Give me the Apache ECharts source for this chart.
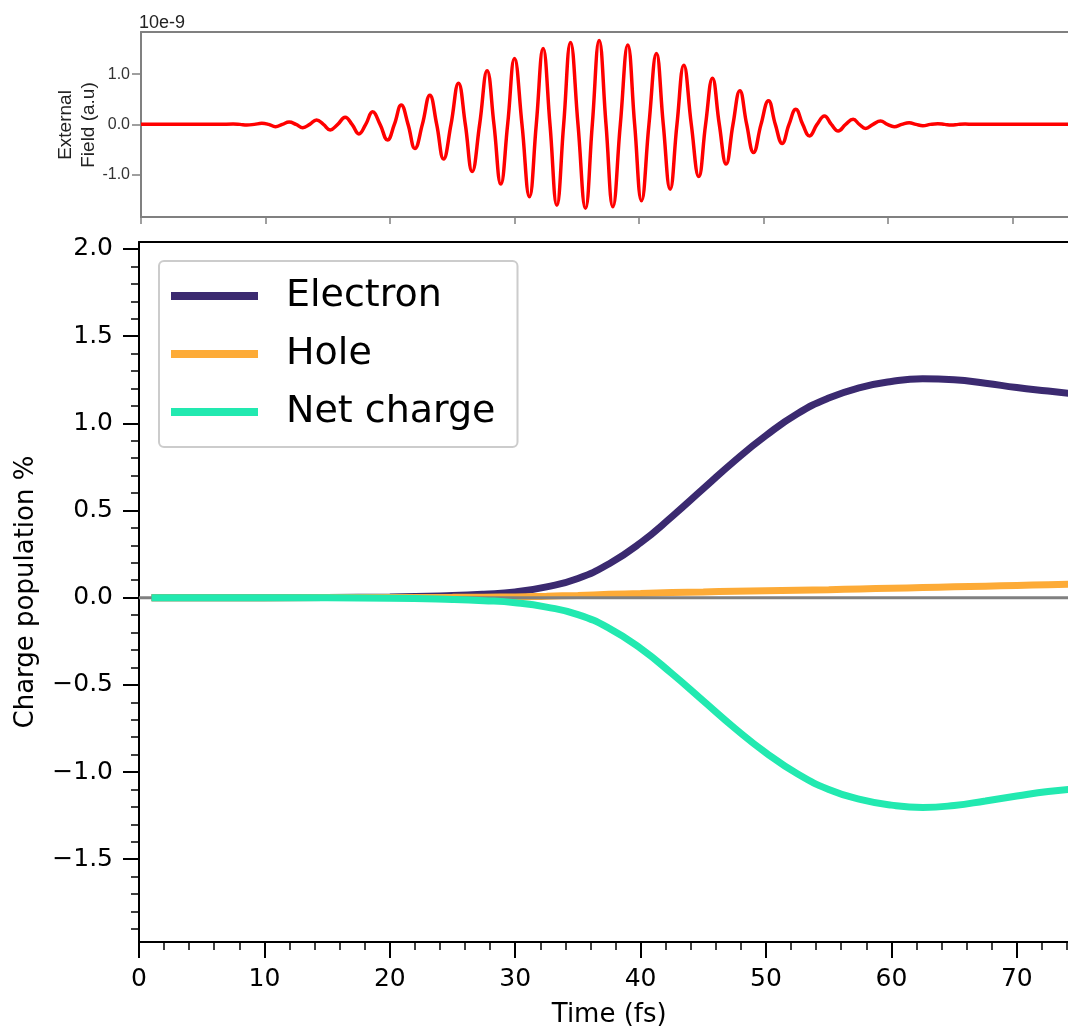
<!DOCTYPE html>
<html>
<head>
<meta charset="utf-8">
<title>Charge population under external field</title>
<script src="https://cdn.jsdelivr.net/npm/echarts@6/dist/echarts.min.js"></script>
<style>
  html, body { margin: 0; padding: 0; background: #ffffff; }
  #chart { width: 1068px; height: 1030px; }
</style>
</head>
<body>
<div id="chart"></div>
<script>
// ---- External field (units of 1e-9 a.u.) : extrema and zero crossings ----
const fieldPeakTime = [7.4, 8.5, 9.7, 10.8, 11.9, 13.0, 14.1, 15.2, 16.4, 17.5, 18.6, 19.8, 20.9, 22.0,
  23.2, 24.3, 25.5, 26.6, 27.8, 28.9, 30.0, 31.2, 32.3, 33.4, 34.5, 35.7, 36.8, 37.9, 39.1, 40.2,
  41.4, 42.5, 43.6, 44.8, 45.9, 47.0, 48.1, 49.2, 50.4, 51.5, 52.6, 53.7, 54.9, 56.0, 57.2, 58.2,
  59.4, 60.5, 61.7, 62.8, 64.0, 65.1, 66.2];
const fieldPeakValue = [0.008, -0.012, 0.02, -0.045, 0.046, -0.066, 0.086, -0.11, 0.14, -0.19, 0.25, -0.31,
  0.385, -0.48, 0.58, -0.69, 0.82, -0.94, 1.07, -1.19, 1.31, -1.44, 1.51, -1.61, 1.63, -1.67, 1.67,
  -1.64, 1.58, -1.52, 1.41, -1.29, 1.18, -1.04, 0.92, -0.79, 0.67, -0.56, 0.47, -0.38, 0.30, -0.23,
  0.166, -0.13, 0.10, -0.08, 0.066, -0.046, 0.033, -0.027, 0.013, -0.012, 0.006];
const fieldZeroTime = [0, 4, 6.3, 7.95, 9.1, 10.25, 11.35, 12.45, 13.55, 14.65, 15.8, 16.95, 18.05, 19.2,
  20.35, 21.45, 22.6, 23.75, 24.9, 26.05, 27.2, 28.35, 29.45, 30.6, 31.75, 32.85, 33.95, 35.1, 36.25,
  37.35, 38.5, 39.65, 40.8, 41.95, 43.05, 44.2, 45.35, 46.45, 47.55, 48.65, 49.8, 50.95, 52.05, 53.15,
  54.3, 55.45, 56.6, 57.7, 58.8, 59.95, 61.1, 62.25, 63.4, 64.55, 65.65, 66.8, 75];

// ---- Charge populations (%) ----
const time = [1, 10, 20, 25, 27.5, 30, 32.5, 35, 37.5, 40, 42.5, 45, 47.5, 50, 52.5, 55, 57.5, 60,
  62.5, 65, 67.5, 70, 72.5, 75];
const electron = [0, 0, 0.004, 0.012, 0.02, 0.033, 0.062, 0.11, 0.195, 0.315, 0.465, 0.625, 0.785, 0.93,
  1.055, 1.145, 1.205, 1.24, 1.255, 1.25, 1.23, 1.205, 1.185, 1.165];
const hole = [0, 0, 0.001, 0.002, 0.003, 0.004, 0.008, 0.013, 0.019, 0.024, 0.029, 0.033, 0.037, 0.04,
  0.043, 0.046, 0.05, 0.054, 0.058, 0.062, 0.066, 0.07, 0.074, 0.078];
const netCharge = [0, 0, -0.003, -0.01, -0.017, -0.029, -0.054, -0.097, -0.176, -0.291, -0.436, -0.592,
  -0.748, -0.89, -1.01, -1.1, -1.157, -1.19, -1.203, -1.192, -1.166, -1.138, -1.112, -1.095];
const baselineTime = [0, 75];
const baselineValue = [0, 0];

// ---- Tick labels ----
const timeTicks = [0, 10, 20, 30, 40, 50, 60, 70];
const fieldTicks = [-1, 0, 1];
const chargeTicks = [-1.5, -1, -0.5, 0, 0.5, 1, 1.5, 2];

const fieldData = fieldPeakTime.map((t, i) => [t, fieldPeakValue[i]])
  .concat(fieldZeroTime.map(t => [t, 0]))
  .sort((a, b) => a[0] - b[0]);
const pairs = (xs, ys) => xs.map((x, i) => [x, ys[i]]);

// minor ticks: every 2 fs on time, every 0.1 on population
const timeMinor = [];
for (let k = 1; k <= 37; k++) {
  if (k % 5 !== 0) timeMinor.push(k * 2);
}
const chargeMinor = [];
for (let k = -19; k <= 19; k++) {
  if (k % 5 !== 0) chargeMinor.push(k / 10);
}

const fmtMinus = v => (v < 0 ? '\u2212' : '') + Math.abs(v).toFixed(1);
const black = '#000000';
const grey = '#808080';
const hidden = { show: false };

const chart = echarts.init(document.getElementById('chart'), null, { renderer: 'canvas' });
chart.setOption({
  animation: false,
  backgroundColor: '#ffffff',
  textStyle: { fontFamily: 'DejaVu Sans' },
  grid: [
    { left: 141, top: 32, height: 185, right: -6.75, outerBoundsMode: 'none', containLabel: false },
    { left: 139, top: 242, height: 700, right: -11.5, outerBoundsMode: 'none', containLabel: false }
  ],
  xAxis: [
    {
      gridIndex: 0, type: 'value', position: 'bottom', min: 0, max: 75,
      axisLine: { onZero: false, lineStyle: { color: grey, width: 2 } },
      axisTick: { customValues: timeTicks, length: 7, lineStyle: { color: grey, width: 1.5 } },
      axisLabel: hidden, splitLine: hidden
    },
    {
      gridIndex: 0, type: 'value', position: 'top', min: 0, max: 75,
      axisLine: { onZero: false, lineStyle: { color: grey, width: 2 } },
      axisTick: hidden, axisLabel: hidden, splitLine: hidden
    },
    {
      gridIndex: 1, type: 'value', position: 'bottom', min: 0, max: 75,
      axisLine: { onZero: false, lineStyle: { color: black, width: 2 } },
      axisTick: { customValues: timeTicks, length: 16, lineStyle: { color: black, width: 2 } },
      axisLabel: { customValues: timeTicks, fontSize: 25, margin: 25, color: black, fontFamily: 'DejaVu Sans' },
      splitLine: hidden,
      name: 'Time (fs)', nameLocation: 'middle', nameGap: 60,
      nameTextStyle: { fontSize: 26, color: black, fontFamily: 'DejaVu Sans' }
    },
    {
      gridIndex: 1, type: 'value', position: 'top', min: 0, max: 75,
      axisLine: { onZero: false, lineStyle: { color: black, width: 2 } },
      axisTick: hidden, axisLabel: hidden, splitLine: hidden
    },
    {
      gridIndex: 1, type: 'value', position: 'bottom', min: 0, max: 75,
      axisLine: { onZero: false, show: false },
      axisTick: { customValues: timeMinor, length: 8, lineStyle: { color: black, width: 1.5 } },
      axisLabel: hidden, splitLine: hidden
    }
  ],
  yAxis: [
    {
      gridIndex: 0, type: 'value', position: 'left', min: -1.845, max: 1.84,
      axisLine: { onZero: false, lineStyle: { color: grey, width: 2 } },
      axisTick: { customValues: fieldTicks, length: 9, lineStyle: { color: grey, width: 1.5 } },
      axisLabel: {
        customValues: fieldTicks, formatter: v => v.toFixed(1),
        fontSize: 16, margin: 11, color: '#333333', fontFamily: 'Liberation Sans'
      },
      splitLine: hidden
    },
    {
      gridIndex: 1, type: 'value', position: 'left', min: -1.975, max: 2.04,
      axisLine: { onZero: false, lineStyle: { color: black, width: 2 } },
      axisTick: { customValues: chargeTicks, length: 16, lineStyle: { color: black, width: 2 } },
      axisLabel: {
        customValues: chargeTicks, formatter: fmtMinus,
        fontSize: 25, margin: 26, color: black, fontFamily: 'DejaVu Sans'
      },
      splitLine: hidden,
      name: 'Charge population %', nameLocation: 'middle', nameGap: 100,
      nameTextStyle: { fontSize: 26, color: black, fontFamily: 'DejaVu Sans' }
    },
    {
      gridIndex: 1, type: 'value', position: 'left', min: -1.975, max: 2.04,
      axisLine: { onZero: false, show: false },
      axisTick: { customValues: chargeMinor, length: 8, lineStyle: { color: black, width: 1.5 } },
      axisLabel: hidden, splitLine: hidden
    }
  ],
  legend: {
    data: ['Electron', 'Hole', 'Net charge'],
    orient: 'vertical', left: 159, top: 261,
    icon: 'rect', itemWidth: 87, itemHeight: 8, itemGap: 20,
    padding: [16, 22, 16, 12],
    borderColor: '#cccccc', borderWidth: 2, borderRadius: 5,
    backgroundColor: '#ffffff',
    selectedMode: false,
    textStyle: { fontSize: 38, color: black, fontFamily: 'DejaVu Sans', padding: [0, 0, 0, 23] }
  },
  graphic: [
    {
      type: 'text', left: 139, top: 14,
      style: { text: '10e-9', font: '18px "Liberation Sans"', fill: '#222222' }
    },
    {
      type: 'text', x: 77, y: 125, rotation: Math.PI / 2,
      style: {
        text: 'External\nField (a.u)', align: 'center', verticalAlign: 'middle',
        font: '19px "Liberation Sans"', lineHeight: 23, fill: '#222222'
      }
    }
  ],
  series: [
    {
      name: 'External field', type: 'line', xAxisIndex: 0, yAxisIndex: 0,
      data: fieldData, showSymbol: false, smooth: 0.45,
      lineStyle: { color: '#ff0000', width: 3.5 }
    },
    {
      name: 'Electron', type: 'line', xAxisIndex: 2, yAxisIndex: 1,
      data: pairs(time, electron), showSymbol: false, smooth: 0.5,
      itemStyle: { color: '#3b2a70' }, lineStyle: { color: '#3b2a70', width: 7 }
    },
    {
      name: 'Hole', type: 'line', xAxisIndex: 2, yAxisIndex: 1,
      data: pairs(time, hole), showSymbol: false, smooth: 0.5,
      itemStyle: { color: '#fdab37' }, lineStyle: { color: '#fdab37', width: 7 }
    },
    {
      name: 'baseline', type: 'line', xAxisIndex: 2, yAxisIndex: 1,
      data: pairs(baselineTime, baselineValue), showSymbol: false,
      lineStyle: { color: grey, width: 3 }
    },
    {
      name: 'Net charge', type: 'line', xAxisIndex: 2, yAxisIndex: 1,
      data: pairs(time, netCharge), showSymbol: false, smooth: 0.5,
      itemStyle: { color: '#22e9b0' }, lineStyle: { color: '#22e9b0', width: 7 }
    }
  ]
});
</script>
</body>
</html>
